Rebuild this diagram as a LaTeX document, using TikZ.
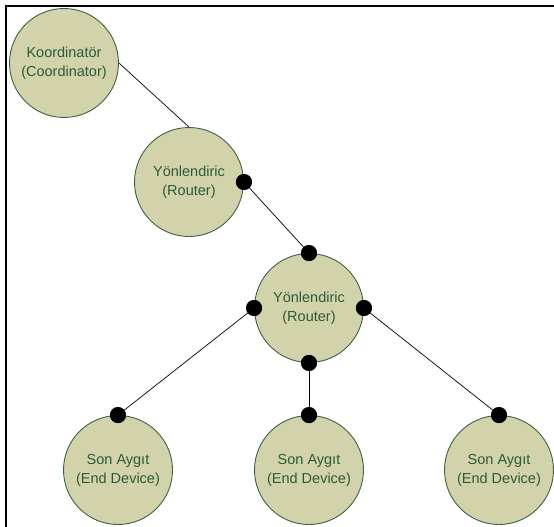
\documentclass[tikz,border=0pt]{standalone}
\usepackage{fontspec}
\setmainfont{Liberation Sans}
\definecolor{nodefill}{HTML}{D2D3AB}
\definecolor{nodeline}{HTML}{3A6343}
\definecolor{nodetext}{HTML}{2C5A38}
\begin{document}
\begin{tikzpicture}[x=1pt,y=-1pt,
  devnode/.style={circle,draw=nodeline,fill=nodefill,line width=0.9pt,
    minimum size=109pt,inner sep=0pt,align=center,text=nodetext,
    font=\fontsize{14.5}{19}\selectfont},
  portdot/.style={circle,fill=black,minimum size=16pt,inner sep=0pt},
  link/.style={draw=black,line width=0.7pt}]
\useasboundingbox (0,0) rectangle (554,527);
% frame
\draw[line width=2pt] (6,527) -- (6,6) -- (554,6);
% devices
\node[devnode] (coord) at (64,63) {Koordinatör\\(Coordinator)};
\node[devnode] (r1) at (189,182) {Yönlendiric\\(Router)};
\node[devnode] (r2) at (309,308) {Yönlendiric\\(Router)};
\node[devnode] (e1) at (118,470) {Son Aygıt\\(End Device)};
\node[devnode] (e2) at (309,470) {Son Aygıt\\(End Device)};
\node[devnode] (e3) at (499,470) {Son Aygıt\\(End Device)};
% connection points
\node[portdot] (r1e) at (r1.east) {};
\node[portdot] (r2n) at (r2.north) {};
\node[portdot] (r2w) at (r2.west) {};
\node[portdot] (r2e) at (r2.east) {};
\node[portdot] (r2s) at (r2.south) {};
\node[portdot] (e1n) at (e1.north) {};
\node[portdot] (e2n) at (e2.north) {};
\node[portdot] (e3n) at (e3.north) {};
% links
\begin{scope}[on background layer/.style={}]
\draw[link] (coord.east) -- (r1.north);
\draw[link] (r1e.center) -- (r2n.center);
\draw[link] (r2w.center) -- (e1n.center);
\draw[link] (r2s.center) -- (e2n.center);
\draw[link] (r2e.center) -- (e3n.center);
\end{scope}
% redraw dots on top of the links
\foreach \p in {r1e,r2n,r2w,r2e,r2s,e1n,e2n,e3n}
  \fill[black] (\p.center) circle (8pt);
\end{tikzpicture}
\end{document}
